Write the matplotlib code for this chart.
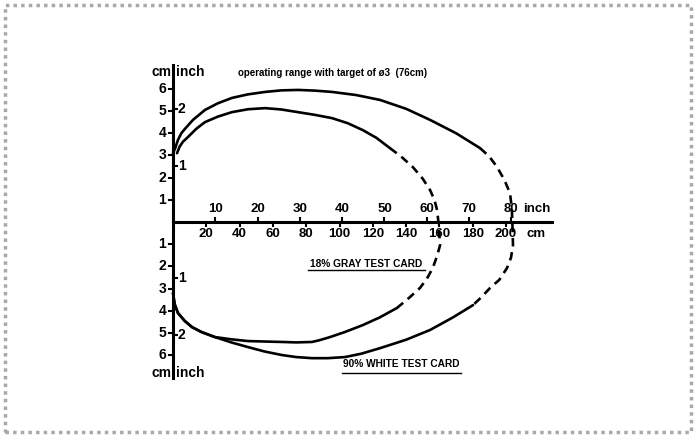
import matplotlib.pyplot as plt
from matplotlib.patches import Rectangle
import numpy as np

plt.rcParams['font.family'] = ['Liberation Sans', 'DejaVu Sans']

# ranges in cm (x = distance, y = half width of the field)
white_top_x = [0, 1.2, 3, 5, 7.2, 12, 19.2, 27, 35.4, 45, 55.3, 65, 75, 85,
               95.5, 110, 124.3, 140, 154.4, 170, 184.4]
white_top_y = [3.1, 3.3, 3.7, 4.0, 4.2, 4.6, 5.05, 5.35, 5.59, 5.75, 5.86, 5.93,
               5.95, 5.92, 5.86, 5.72, 5.5, 5.1, 4.6, 4.0, 3.33]
white_dash_x = [184.4, 190, 194.6, 199, 202.4, 203.5, 203.8, 204.2, 203, 200.6,
                196, 190.4, 185, 180.2]
white_dash_y = [3.33, 2.95, 2.48, 1.9, 1.3, 0.6, 0.0, -1.04, -1.6, -2.07,
                -2.6, -2.97, -3.4, -3.74]
white_bot_x = [180.2, 168, 154.4, 140, 124.3, 113, 103.3, 93, 83.5, 74, 65.5,
               55, 45, 35, 25.2, 17, 11.4, 7, 3, 1, 0]
white_bot_y = [-3.74, -4.3, -4.86, -5.3, -5.68, -5.93, -6.08, -6.13, -6.13,
               -6.08, -5.99, -5.83, -5.63, -5.42, -5.18, -4.95, -4.73, -4.45,
               -4.1, -3.7, -3.2]

gray_top_x = [2.4, 4, 6, 9, 14, 19.2, 27, 35.4, 45, 55.3, 65, 75, 85, 95.5,
              105, 114, 122, 130.3]
gray_top_y = [3.1, 3.4, 3.62, 3.83, 4.2, 4.5, 4.75, 4.95, 5.08, 5.13, 5.07,
              4.95, 4.83, 4.68, 4.45, 4.14, 3.8, 3.33]
gray_dash_x = [130.3, 137, 144, 150, 154.4, 157, 158.6, 159.4, 160.4, 158.5,
               156, 152.5, 148.3, 142, 134.5]
gray_dash_y = [3.33, 2.95, 2.48, 1.95, 1.44, 1.0, 0.54, 0.0, -1.04, -1.55,
               -2.07, -2.55, -2.97, -3.4, -3.87]
gray_bot_x = [134.5, 124, 114, 103.3, 94.3, 88, 83.5, 74, 65.5, 55, 45, 35,
              25.2, 17, 11.4, 7, 3, 1, 0]
gray_bot_y = [-3.87, -4.3, -4.64, -4.95, -5.18, -5.32, -5.4, -5.42, -5.4,
              -5.38, -5.36, -5.28, -5.18, -4.95, -4.73, -4.45, -4.1, -3.7, -3.2]

cm_ticks = [20, 40, 60, 80, 100, 120, 140, 160, 180, 200]
inch_ticks = [10, 20, 30, 40, 50, 60, 70, 80]
y_cm_ticks = [1, 2, 3, 4, 5, 6]
y_inch_ticks = [1, 2]

fig = plt.figure(figsize=(6.98, 4.37), dpi=100)
ax = fig.add_axes([0, 0, 1, 1])
ax.set_xlim(-103.9, 315.3)
ax.set_ylim(-9.68, 10.0)
ax.axis('off')

lw = 1.9
dash = (0, (3.2, 2.2))
for xs, ys in [(white_top_x, white_top_y), (white_bot_x, white_bot_y),
               (gray_top_x, gray_top_y), (gray_bot_x, gray_bot_y)]:
    ax.plot(xs, ys, color='black', lw=lw, solid_capstyle='round',
            solid_joinstyle='round')
for xs, ys in [(white_dash_x, white_dash_y), (gray_dash_x, gray_dash_y)]:
    ax.plot(xs, ys, color='black', lw=lw, linestyle=dash)

# axes
ax.plot([0, 227.6], [0, 0], color='black', lw=2.2)
ax.plot([0, 0], [-7.03, 7.07], color='black', lw=2.2)

tfont = dict(fontsize=9.5, fontweight='bold')
for c in cm_ticks:
    ax.plot([c, c], [0, -0.17], color='black', lw=1.5)
    ax.text(c, -0.55, str(c), ha='center', va='center', **tfont)
for i in inch_ticks:
    ax.plot([i * 2.54, i * 2.54], [0, 0.17], color='black', lw=1.5)
    ax.text(i * 2.54, 0.6, str(i), ha='center', va='center', **tfont)
ax.text(210, 0.6, 'inch', ha='left', va='center', **tfont)
ax.text(212.5, -0.55, 'cm', ha='left', va='center', **tfont)

yfont = dict(fontsize=10, fontweight='bold')
for s in [1, -1]:
    for c in y_cm_ticks:
        ax.plot([0, -2.4], [s * c, s * c], color='black', lw=1.5)
        ax.text(-4.0, s * c, str(c), ha='right', va='center', **yfont)
    for i in y_inch_ticks:
        ax.plot([0, 2.4], [s * i * 2.54, s * i * 2.54], color='black', lw=1.5)
        ax.text(3.0, s * i * 2.54, str(i), ha='left', va='center', **yfont)
    ax.text(-1.0, s * 6.78, 'cm', ha='right', va='center', **yfont)
    ax.text(1.8, s * 6.78, 'inch', ha='left', va='center', **yfont)

ax.text(39, 6.71, 'operating range with target of \u00f83  (76cm)',
        ha='left', va='center', fontsize=7, fontweight='bold')

ax.text(116, -1.89, '18% GRAY TEST CARD', ha='center', va='center',
        fontsize=7.3, fontweight='bold')
ax.plot([81, 151.4], [-2.18, -2.18], color='black', lw=1.0)
ax.text(137, -6.4, '90% WHITE TEST CARD', ha='center', va='center',
        fontsize=7.3, fontweight='bold')
ax.plot([101.5, 173], [-6.78, -6.78], color='black', lw=1.0)

# scanned page frame
fig.add_artist(Rectangle((0.007, 0.012), 0.983, 0.977, transform=fig.transFigure,
                         fill=False, ec='#a8a8a8', lw=2.5, ls=(0, (1, 1.2))))

fig.savefig('out.png', dpi=100)
